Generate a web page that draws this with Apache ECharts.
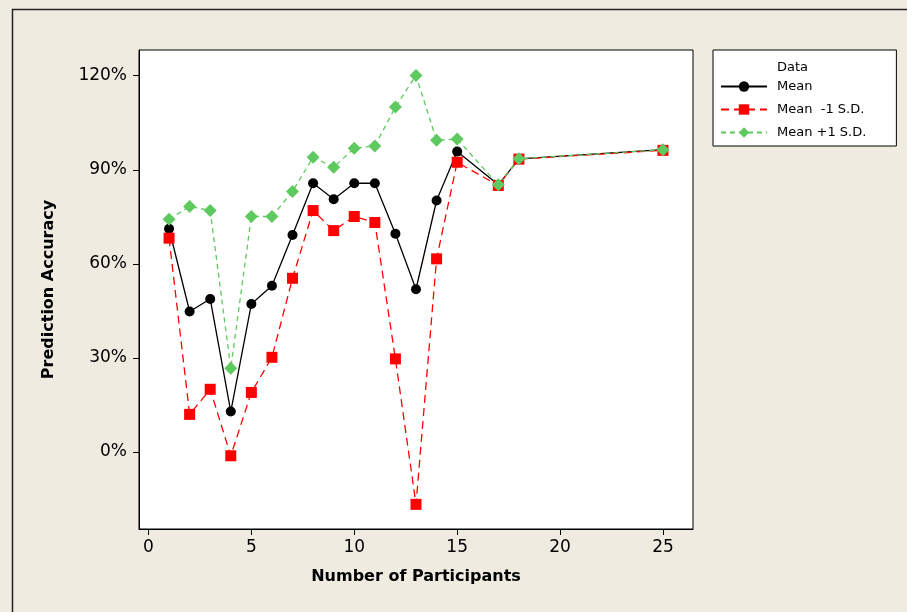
<!DOCTYPE html>
<html>
<head>
<meta charset="utf-8">
<title>Prediction Accuracy</title>
<script src="https://cdn.jsdelivr.net/npm/echarts@6/dist/echarts.min.js"></script>
<style>
  html, body { margin: 0; padding: 0; background: #efebe1; }
  #chart { width: 907px; height: 612px; }
</style>
</head>
<body>
<div id="chart"></div>
<script>
// number of participants
const participants = [1, 2, 3, 4, 5, 6, 7, 8, 9, 10, 11, 12, 13, 14, 15, 17, 18, 25]
// accuracy in %
const meanValues = [71.2, 44.8, 48.8, 12.9, 47.2, 53.0, 69.2, 85.7, 80.6, 85.7, 85.7, 69.6, 51.9, 80.2, 95.8, 85.2, 93.5, 96.4]
const minusSdValues = [68.2, 12.0, 20.0, -1.2, 19.0, 30.2, 55.4, 77.0, 70.6, 75.1, 73.2, 29.7, -16.7, 61.6, 92.4, 85.0, 93.4, 96.2]
const plusSdValues = [74.2, 78.3, 77.0, 26.7, 75.1, 75.1, 83.1, 94.0, 90.8, 96.9, 97.6, 110.0, 120.1, 99.4, 99.8, 85.2, 93.5, 96.4]
const xTicks = [0, 5, 10, 15, 20, 25]
const yTicks = [0, 30, 60, 90, 120]

const pairs = (ys) => participants.map((x, i) => [x, ys[i]])

const chart = echarts.init(document.getElementById('chart'))
const font = 'DejaVu Sans'

chart.setOption({
  backgroundColor: '#efebe1',
  animation: false,
  textStyle: { fontFamily: font },
  graphic: [
    {
      // outer frame of the graph window
      type: 'rect',
      left: 10,
      top: 7,
      shape: { width: 1000, height: 1000 },
      style: { fill: 'none', stroke: '#222', lineWidth: 1.5 },
      silent: true
    }
  ],
  title: {
    text: 'Data',
    left: 772,
    top: 56,
    textStyle: { fontFamily: font, fontSize: 13, fontWeight: 'normal', color: '#000' }
  },
  legend: {
    orient: 'vertical',
    left: 713,
    top: 50,
    padding: [30, 30, 7, 7],
    itemWidth: 46,
    itemHeight: 13,
    itemGap: 10,
    borderColor: '#000',
    borderWidth: 1,
    backgroundColor: '#fff',
    textStyle: { fontFamily: font, fontSize: 13, color: '#000', padding: [0, 0, 0, 5] },
    data: ['Mean', 'Mean  -1 S.D.', 'Mean +1 S.D.']
  },
  grid: {
    left: 139,
    top: 50,
    right: 214,
    bottom: 83,
    show: true,
    backgroundColor: '#fff',
    borderColor: '#000',
    borderWidth: 1
  },
  xAxis: {
    type: 'value',
    min: -0.46,
    max: 26.46,
    name: 'Number of Participants',
    nameLocation: 'middle',
    nameGap: 40,
    nameTextStyle: { fontFamily: font, fontSize: 16, fontWeight: 'bold', color: '#000' },
    axisLine: { show: true, onZero: false, lineStyle: { color: '#000' } },
    axisTick: { show: true, inside: false, length: 6, customValues: xTicks, lineStyle: { color: '#000' } },
    axisLabel: { margin: 10, customValues: xTicks, fontSize: 17, color: '#000' },
    splitLine: { show: false }
  },
  yAxis: {
    type: 'value',
    min: -24.55,
    max: 128.2,
    name: 'Prediction Accuracy',
    nameLocation: 'middle',
    nameRotate: 90,
    nameGap: 82,
    nameTextStyle: { fontFamily: font, fontSize: 16, fontWeight: 'bold', color: '#000' },
    axisLine: { show: true, onZero: false, lineStyle: { color: '#000' } },
    axisTick: { show: true, inside: false, length: 6, customValues: yTicks, lineStyle: { color: '#000' } },
    axisLabel: { margin: 12, customValues: yTicks, formatter: '{value}%', fontSize: 17, color: '#000' },
    splitLine: { show: false }
  },
  series: [
    {
      name: 'Mean',
      type: 'line',
      data: pairs(meanValues),
      symbol: 'circle',
      symbolSize: 10,
      itemStyle: { color: '#000' },
      lineStyle: { color: '#000', width: 1.3 }
    },
    {
      name: 'Mean  -1 S.D.',
      type: 'line',
      data: pairs(minusSdValues),
      symbol: 'rect',
      symbolSize: 11,
      itemStyle: { color: '#ff0000' },
      lineStyle: { color: '#ff0000', width: 1.3, type: [8, 5] }
    },
    {
      name: 'Mean +1 S.D.',
      type: 'line',
      data: pairs(plusSdValues),
      symbol: 'diamond',
      symbolSize: 13,
      itemStyle: { color: '#5ec95e' },
      lineStyle: { color: '#5ec95e', width: 1.3, type: [5, 4] }
    }
  ]
})
</script>
</body>
</html>
